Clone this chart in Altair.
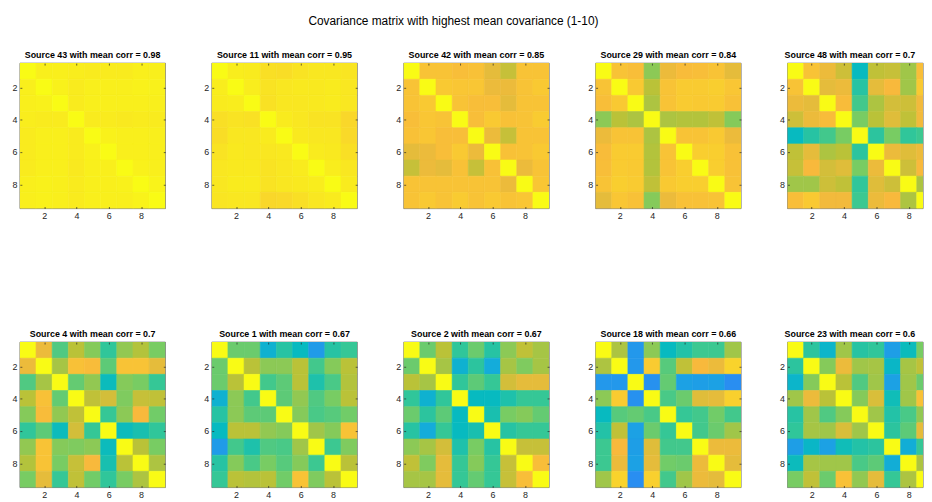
import altair as alt
import pandas as pd

# ---------------- data ----------------
sources = [43, 11, 42, 29, 48, 4, 1, 2, 18, 23]
# text of each panel title as visible (last column is cut by the figure edge)
mean_corr = ["0.98", "0.95", "0.85", "0.84", "0.7", "0.7", "0.67", "0.67", "0.66", "0.6"]
tick_values = [2, 4, 6, 8]
n = 9

# upper triangles (row i, columns i+1..9); diagonal = 1, matrices symmetric
src43 = [
    [0.97, 0.97, 0.965, 0.96, 0.96, 0.96, 0.97, 0.97],
    [0.975, 0.96, 0.97, 0.97, 0.97, 0.975, 0.975],
    [0.96, 0.97, 0.97, 0.97, 0.97, 0.97],
    [0.96, 0.96, 0.955, 0.96, 0.96],
    [0.975, 0.97, 0.97, 0.97],
    [0.97, 0.97, 0.97],
    [0.975, 0.97],
    [0.98],
]
src11 = [
    [0.965, 0.96, 0.93, 0.925, 0.94, 0.95, 0.95, 0.945],
    [0.965, 0.94, 0.95, 0.955, 0.955, 0.96, 0.95],
    [0.935, 0.95, 0.95, 0.955, 0.96, 0.95],
    [0.96, 0.95, 0.94, 0.94, 0.91],
    [0.955, 0.95, 0.95, 0.915],
    [0.96, 0.955, 0.93],
    [0.965, 0.95],
    [0.96],
]
src42 = [
    [0.84, 0.84, 0.82, 0.83, 0.77, 0.72, 0.84, 0.84],
    [0.86, 0.85, 0.85, 0.78, 0.78, 0.84, 0.86],
    [0.84, 0.82, 0.82, 0.77, 0.84, 0.84],
    [0.82, 0.86, 0.83, 0.84, 0.87],
    [0.78, 0.72, 0.84, 0.84],
    [0.83, 0.84, 0.86],
    [0.78, 0.84],
    [0.85],
]
src29 = [
    [0.84, 0.82, 0.63, 0.78, 0.81, 0.82, 0.84, 0.77],
    [0.86, 0.70, 0.84, 0.87, 0.87, 0.88, 0.85],
    [0.68, 0.84, 0.87, 0.86, 0.87, 0.83],
    [0.68, 0.69, 0.69, 0.71, 0.62],
    [0.84, 0.84, 0.86, 0.78],
    [0.88, 0.88, 0.83],
    [0.88, 0.83],
    [0.84],
]
src48 = [
    [0.84, 0.78, 0.73, 0.40, 0.71, 0.72, 0.66, 0.82],
    [0.77, 0.78, 0.47, 0.77, 0.80, 0.66, 0.86],
    [0.81, 0.52, 0.68, 0.74, 0.73, 0.79],
    [0.60, 0.70, 0.76, 0.71, 0.79],
    [0.48, 0.60, 0.49, 0.51],
    [0.78, 0.76, 0.78],
    [0.73, 0.80],
    [0.68],
]
src4 = [
    [0.78, 0.54, 0.70, 0.62, 0.49, 0.64, 0.69, 0.60],
    [0.67, 0.83, 0.81, 0.56, 0.84, 0.84, 0.77],
    [0.57, 0.64, 0.41, 0.62, 0.60, 0.50],
    [0.71, 0.74, 0.61, 0.72, 0.71],
    [0.50, 0.63, 0.80, 0.59],
    [0.41, 0.44, 0.49],
    [0.70, 0.60],
    [0.68],
]
src1 = [
    [0.58, 0.58, 0.35, 0.47, 0.40, 0.26, 0.47, 0.50],
    [0.70, 0.63, 0.63, 0.70, 0.52, 0.62, 0.70],
    [0.52, 0.56, 0.70, 0.45, 0.53, 0.69],
    [0.56, 0.64, 0.54, 0.60, 0.70],
    [0.62, 0.53, 0.55, 0.59],
    [0.66, 0.62, 0.84],
    [0.51, 0.61],
    [0.70],
]
src2 = [
    [0.58, 0.70, 0.49, 0.58, 0.47, 0.63, 0.71, 0.67],
    [0.67, 0.35, 0.48, 0.32, 0.67, 0.61, 0.67],
    [0.49, 0.56, 0.50, 0.74, 0.77, 0.77],
    [0.40, 0.40, 0.45, 0.50, 0.50],
    [0.44, 0.60, 0.62, 0.57],
    [0.47, 0.50, 0.50],
    [0.72, 0.72],
    [0.82],
]
src18 = [
    [0.68, 0.25, 0.63, 0.40, 0.46, 0.51, 0.51, 0.66],
    [0.25, 0.87, 0.55, 0.71, 0.80, 0.78, 0.90],
    [0.23, 0.57, 0.28, 0.27, 0.28, 0.22],
    [0.53, 0.58, 0.76, 0.77, 0.89],
    [0.50, 0.52, 0.59, 0.52],
    [0.52, 0.58, 0.66],
    [0.78, 0.78],
    [0.77],
]
src23 = [
    [0.48, 0.37, 0.66, 0.47, 0.49, 0.27, 0.41, 0.60],
    [0.62, 0.78, 0.66, 0.67, 0.38, 0.67, 0.71],
    [0.70, 0.54, 0.66, 0.28, 0.66, 0.58],
    [0.62, 0.75, 0.42, 0.66, 0.83],
    [0.66, 0.46, 0.53, 0.64],
    [0.48, 0.56, 0.77],
    [0.33, 0.50],
    [0.68],
]
uppers = [src43, src11, src42, src29, src48, src4, src1, src2, src18, src23]

# parula-like colormap
cmap_stops = [0.0, 0.1, 0.2, 0.3, 0.4, 0.5, 0.6, 0.7, 0.8, 0.9, 1.0]
cmap_colors = ["#3e26a8", "#4756f9", "#2e87f5", "#17a8e0", "#07bac0", "#35c796",
               "#78cc63", "#bac238", "#f8b93c", "#f9d32c", "#f9fb15"]

# ---------------- table ----------------
records = []
for k, up in enumerate(uppers):
    for i in range(1, n + 1):
        for j in range(1, n + 1):
            if i == j:
                v = 1.0
            else:
                a, b = min(i, j), max(i, j)
                v = up[a - 1][b - a - 1]
            records.append({"panel": k, "row": i, "col": j, "value": v})
df = pd.DataFrame(records)

FONT = "Liberation Sans"
AX_COLOR = "#262626"
W = 147          # full panel size
W_CUT = 137      # last column is cut by the right edge of the figure
CELL = W / n

cscale = alt.Scale(domain=cmap_stops, range=cmap_colors, interpolate="rgb", clamp=True)
yscale = alt.Scale(domain=[0.5, n + 0.5], reverse=True, nice=False, zero=False)

common = dict(values=tick_values, title=None, grid=False, domain=False, format="d",
              tickSize=2, offset=-2, tickColor=AX_COLOR, tickWidth=0.7, zindex=1)
ax_bottom = alt.Axis(orient="bottom", labelAngle=0, labelFontSize=9, labelFont=FONT,
                     labelColor=AX_COLOR, labelPadding=3, **common)
ax_left = alt.Axis(orient="left", labelFontSize=9, labelFont=FONT,
                   labelColor=AX_COLOR, labelPadding=3, **common)
ax_top = alt.Axis(orient="top", labels=False, **common)
ax_right = alt.Axis(orient="right", labels=False, **common)


def make_panel(k):
    cut = (k % 5 == 4)
    width = W_CUT if cut else W
    xmax = 0.5 + width / CELL
    xscale = alt.Scale(domain=[0.5, xmax], nice=False, zero=False)
    base = (
        alt.Chart(df)
        .transform_filter(alt.datum.panel == k)
        .transform_calculate(x0="datum.col - 0.5", x1="datum.col + 0.5",
                             y0="datum.row - 0.5", y1="datum.row + 0.5")
    )
    heat = base.mark_rect(clip=True, strokeWidth=0.6).encode(
        x=alt.X("x0:Q", scale=xscale, axis=ax_bottom),
        x2="x1:Q",
        y=alt.Y("y0:Q", scale=yscale, axis=ax_left),
        y2="y1:Q",
        color=alt.Color("value:Q", scale=cscale, legend=None),
        stroke=alt.Stroke("value:Q", scale=cscale, legend=None),
    )
    mirror = base.mark_rect(opacity=0, clip=True).encode(
        x=alt.X("x0:Q", scale=xscale, axis=ax_top),
        x2="x1:Q",
        y=alt.Y("y0:Q", scale=yscale, axis=None if cut else ax_right),
        y2="y1:Q",
    )
    text = f"Source {sources[k]} with mean corr = {mean_corr[k]}"
    if cut:
        tparams = alt.TitleParams(text, fontSize=9, fontWeight="bold", font=FONT,
                                  color="black", offset=3, anchor="start", dx=5)
    else:
        tparams = alt.TitleParams(text, fontSize=9, fontWeight="bold", font=FONT,
                                  color="black", offset=3)
    return (
        alt.layer(heat, mirror)
        .resolve_axis(x="independent", y="independent")
        .properties(width=width, height=W, title=tparams)
    )


chart = (
    alt.concat(*[make_panel(k) for k in range(10)], columns=5)
    .properties(
        spacing={"row": 135, "column": 47},
        bounds="flush",
        padding={"left": 3, "top": 4, "right": 0, "bottom": 0},
        title=alt.TitleParams("Covariance matrix with highest mean covariance (1-10)",
                              fontSize=12, fontWeight="normal", font=FONT,
                              color="black", anchor="start", dx=300, offset=23),
    )
    .configure_view(stroke=AX_COLOR, strokeWidth=0.6)
)

chart.save("out.html", embed_options={"renderer": "svg", "actions": False})
